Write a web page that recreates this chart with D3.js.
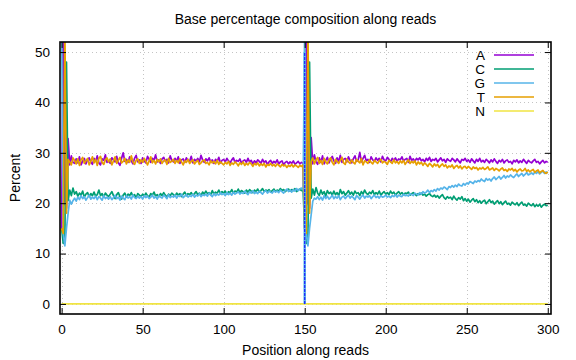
<!DOCTYPE html>
<html><head><meta charset="utf-8">
<script src="https://cdn.jsdelivr.net/npm/d3@7"></script>
<style>
body{margin:0;background:#fff}
svg{display:block}
text{font-family:"Liberation Sans",Arial,Helvetica,sans-serif;fill:#000}
</style></head><body>
<svg id="chart" width="576" height="360"></svg>
<script>
// ---------------- DATA ----------------
const title = "Base percentage composition along reads";
const xLabel = "Position along reads";
const yLabel = "Percent";
const xTicks = [0, 50, 100, 150, 200, 250, 300];
const yTicks = [0, 10, 20, 30, 40, 50];
const seriesNames = ["A", "C", "G", "T", "N"];
const seriesColors = ["#9400d3", "#009e73", "#56b4e9", "#e69f00", "#f0e442"];
const readBoundary = [150];

const baseA = [
14.5,60,20,19,32.8,27.6,29.4,28.1,27.9,28.8,
28.0,29.2,27.6,28.4,28.9,27.8,28.7,29.0,28.2,27.7,
28.9,28.3,29.4,28.0,27.6,28.8,28.5,29.6,28.1,28.4,
27.9,29.0,28.6,28.2,29.3,28.0,27.5,28.9,30.0,28.3,
28.7,28.1,29.2,28.4,27.8,28.9,29.5,28.2,28.6,27.9,
29.0,28.4,28.0,29.3,28.7,28.1,28.9,28.5,29.6,28.2,
28.6,27.9,28.8,29.1,28.3,28.7,28.0,29.4,28.5,28.2,
28.9,28.4,29.2,27.9,28.6,28.8,28.1,29.0,28.5,28.3,
29.3,28.0,28.7,28.4,28.9,28.2,29.5,28.6,28.1,28.8,
28.4,29.0,28.2,28.6,27.9,28.7,28.3,29.1,28.0,28.5,
28.7,28.2,28.9,28.4,28.0,28.6,29.0,28.1,28.5,28.3,
28.8,27.9,28.4,28.6,28.1,28.9,28.2,28.5,27.8,28.4,
28.0,28.6,28.3,27.9,28.7,28.1,28.4,27.7,28.2,28.5,
27.9,28.3,28.0,28.6,27.8,28.2,28.4,27.6,28.1,28.3,
27.8,28.2,27.9,28.4,27.7,28.0,28.3,27.8,28.1,27.9,
15,
60,20,19,33.0,27.8,29.6,28.2,27.7,29.0,
28.1,29.4,27.8,28.5,29.1,28.0,28.8,29.3,28.4,27.9,
29.0,28.3,29.5,28.1,28.7,28.9,28.2,29.2,28.5,28.0,
28.8,29.4,28.3,28.6,30.1,28.2,28.9,29.5,28.4,28.7,
28.1,29.2,28.6,28.3,29.0,28.5,28.9,28.2,29.3,28.6,
28.4,29.1,28.7,28.2,28.9,28.5,29.0,28.3,28.8,28.6,
29.2,28.4,28.7,28.9,28.1,29.3,28.5,28.8,28.3,28.9,
28.6,29.0,28.4,28.7,28.2,28.9,28.5,29.1,28.3,28.7,
28.5,28.9,28.2,28.6,29.0,28.4,28.7,28.1,28.8,28.5,
28.3,28.9,28.6,28.2,28.8,28.4,28.0,28.7,28.5,28.9,
28.3,28.6,28.1,28.8,28.4,28.0,28.7,28.3,28.9,28.2,
28.5,28.1,28.7,28.4,28.0,28.6,28.2,28.8,28.3,27.9,
28.5,28.2,28.7,28.0,28.4,28.6,28.1,28.3,27.8,28.5,
28.2,28.6,28.0,28.4,28.1,28.7,28.3,27.9,28.5,28.2,
28.0,28.4,28.7,28.1,28.3,27.8,28.2,28.5,28.0,28.3,
28.1];

const baseC = [
15,12,13,48,20.5,22.6,21.5,23.0,21.8,22.3,
21.4,22.0,21.6,22.4,21.2,21.8,22.1,21.3,21.9,21.5,
22.2,21.4,21.7,22.6,21.5,21.9,21.2,22.0,21.6,21.3,
21.8,22.3,21.5,20.9,21.7,22.1,21.3,20.8,21.6,22.0,
21.2,21.8,21.5,22.1,21.4,21.7,21.0,21.9,21.6,21.3,
21.8,21.4,22.0,21.5,21.2,21.9,21.6,22.2,21.4,21.7,
21.3,21.9,21.5,22.1,21.6,21.2,21.8,21.5,22.0,21.7,
21.4,22.0,21.6,21.9,21.3,21.8,22.2,21.5,21.9,21.7,
22.1,21.6,21.9,22.3,21.7,22.0,21.5,22.2,21.8,22.4,
21.9,22.1,21.7,22.5,21.8,22.2,22.0,22.6,21.9,22.3,
22.0,22.4,21.8,22.3,22.1,22.7,22.0,22.4,22.2,22.8,
22.1,22.5,22.3,22.0,22.6,22.2,22.7,22.4,22.1,22.6,
22.3,22.8,22.2,22.5,22.9,22.3,22.6,22.4,22.7,22.2,
22.5,22.8,22.3,22.6,22.4,22.9,22.5,22.7,22.3,22.6,
22.8,22.4,22.7,22.5,22.9,22.3,22.6,22.8,22.5,22.7,
15,
12,13,48,21.0,22.8,21.6,23.1,22.0,21.5,
22.6,21.8,22.3,21.4,22.5,21.9,22.2,21.6,22.4,21.7,
22.1,21.5,22.7,21.9,22.3,21.6,22.0,22.5,21.8,22.2,
21.6,22.4,21.9,22.1,21.5,22.3,21.8,22.6,22.0,21.7,
22.2,21.9,22.5,21.7,22.1,21.8,22.4,21.6,22.0,22.3,
21.8,22.1,21.7,22.4,21.9,22.2,21.6,22.0,22.3,21.8,
22.1,21.7,22.0,21.9,22.2,21.6,21.9,22.1,21.8,21.5,
21.9,21.7,22.0,21.6,21.8,21.4,21.7,21.9,21.5,21.3,
21.6,21.2,21.5,21.0,21.4,21.7,21.1,20.8,21.3,21.0,
21.2,20.7,21.4,20.9,20.6,21.1,20.8,21.3,20.5,20.9,
20.4,20.8,20.2,20.6,20.9,20.3,20.7,20.1,20.5,20.0,
20.4,20.6,19.9,20.3,20.7,20.1,20.4,19.8,20.2,20.5,
19.9,20.3,19.7,20.1,20.4,19.8,20.0,19.6,20.2,19.9,
19.7,20.1,19.5,19.9,20.2,19.6,19.8,19.4,20.0,19.7,
19.5,19.9,19.3,19.7,19.4,19.8,19.2,19.6,19.8,19.5,
19.6];

const baseG = [
55.5,14,11.5,15,18,20.6,19.8,20.5,21.0,20.4,
21.2,20.7,21.5,20.9,21.3,20.6,21.1,21.6,20.8,21.2,
20.9,21.4,20.7,21.3,21.0,20.6,21.5,20.9,21.2,20.8,
21.3,20.7,21.1,21.6,20.9,21.2,20.6,21.4,21.0,20.7,
21.5,21.0,21.3,20.8,21.6,21.1,20.9,21.4,21.0,21.3,
20.8,21.5,21.1,21.4,20.9,21.2,21.6,21.0,21.3,20.8,
21.5,21.2,21.0,21.6,21.3,20.9,21.7,21.1,21.4,21.2,
21.6,21.0,21.5,21.3,21.8,21.1,21.4,21.7,21.2,21.5,
21.3,21.8,21.2,21.6,21.4,21.9,21.3,21.7,21.5,21.8,
21.4,22.0,21.6,21.3,21.9,21.5,21.8,21.6,22.1,21.7,
21.9,21.5,22.1,21.7,22.0,21.6,22.2,21.8,22.0,22.3,
21.8,22.1,21.9,22.4,22.0,21.7,22.3,22.0,22.5,21.9,
22.2,21.9,22.4,22.1,21.8,22.3,22.5,22.0,22.4,22.2,
22.0,22.5,22.2,22.4,22.1,22.6,22.3,22.0,22.5,22.8,
22.3,22.6,22.2,22.7,22.4,22.9,22.5,22.8,23.0,22.6,
55,
14,11.5,15,17.7,20.4,21.0,20.8,21.3,20.7,
21.2,20.6,21.5,20.9,21.4,20.8,21.1,21.6,20.9,21.3,
21.0,21.5,20.7,21.2,21.4,20.9,21.3,21.6,21.0,21.4,
21.1,20.7,21.5,21.2,20.8,21.3,21.6,21.0,21.4,21.2,
21.5,20.9,21.3,21.6,21.1,21.4,21.0,21.5,21.2,21.3,
21.6,21.2,21.4,21.1,21.5,21.3,21.7,21.2,21.6,21.4,
21.3,21.8,21.5,21.6,21.4,21.9,21.7,21.5,22.0,21.8,
21.6,22.1,21.8,22.3,22.0,22.2,22.6,22.1,22.5,22.3,
22.7,22.4,22.9,22.6,23.0,22.8,23.2,23.0,22.7,23.3,
23.1,23.5,23.2,23.6,23.3,23.8,23.5,23.4,23.9,23.6,
24.0,23.8,24.3,24.1,23.9,24.4,24.2,24.5,24.3,24.8,
24.5,24.3,24.9,24.6,24.8,24.4,24.9,25.2,24.7,25.0,
25.3,24.8,25.1,25.5,25.0,25.4,25.2,25.6,25.3,25.1,
25.5,25.8,25.3,25.6,25.9,25.4,25.7,26.1,25.6,25.8,
26.0,25.7,26.2,25.9,26.3,25.8,26.1,26.4,25.9,26.2,
26.0];

const baseT = [
15,14,55.5,18,28.7,28.2,27.6,29.0,28.5,27.8,
28.8,27.5,28.6,29.1,27.9,28.4,28.9,27.6,28.3,29.2,
28.0,28.7,27.5,28.9,29.3,28.1,27.7,28.6,29.0,28.2,
28.8,27.6,28.4,29.2,27.9,28.5,29.1,28.0,28.3,28.9,
27.8,28.6,28.1,29.4,28.2,27.7,28.5,28.8,27.9,28.6,
28.1,28.9,28.3,27.6,28.4,29.2,28.0,28.5,27.8,28.7,
28.2,28.8,27.9,28.4,28.6,27.7,28.9,28.1,28.3,28.7,
27.9,28.5,28.0,28.8,28.2,27.6,28.4,28.1,28.7,27.9,
28.3,28.6,27.8,28.2,28.5,27.7,28.0,28.4,28.6,27.9,
28.1,27.6,28.4,28.0,28.3,27.8,28.5,27.7,28.2,27.9,
27.6,28.1,27.8,28.3,27.5,28.0,27.7,28.2,27.9,27.4,
28.0,27.7,28.2,27.5,27.9,27.6,28.1,27.8,27.3,27.9,
27.6,28.0,27.4,27.8,27.5,27.9,27.2,27.7,27.5,27.9,
27.4,27.7,27.3,27.8,27.5,27.2,27.7,27.4,27.6,27.1,
27.5,27.3,27.7,27.2,27.6,27.4,27.1,27.5,27.3,27.6,
15,
14,55.5,18,28.3,29.0,27.8,28.6,29.1,27.9,
28.5,27.7,28.9,28.2,27.8,28.6,29.0,28.1,27.6,28.7,
28.3,27.9,28.5,29.1,28.0,27.7,28.8,28.2,27.9,28.6,
28.1,27.8,28.7,28.3,28.0,28.9,27.6,28.4,28.2,27.9,
28.6,28.1,27.8,28.5,28.2,27.9,28.4,28.7,28.0,28.3,
28.1,27.7,28.5,28.2,27.9,28.6,28.0,28.3,27.8,28.4,
28.0,28.5,27.7,28.2,28.6,27.9,28.3,28.0,28.4,27.6,
28.2,27.8,28.1,27.5,28.0,27.7,27.3,27.9,27.6,27.2,
27.8,27.4,27.7,27.1,27.5,27.8,27.3,27.6,27.0,27.4,
27.2,27.6,26.9,27.3,27.5,27.0,27.4,26.8,27.2,27.3,
26.9,27.3,27.0,26.7,27.2,26.9,27.1,26.6,27.0,26.8,
27.1,26.7,26.9,27.2,26.6,26.8,27.0,26.5,26.9,26.7,
26.4,26.8,27.0,26.5,26.7,26.3,26.8,26.6,26.9,26.4,
26.7,26.2,26.6,26.8,26.4,26.5,26.9,26.3,26.6,26.2,
26.5,26.7,26.1,26.4,26.6,26.0,26.3,26.5,26.1,25.9,
26.2];

const baseN = [
0,0,0,0,0,0,0,0,0,0,0,0,0,0,0,0,0,0,0,0,0,0,0,0,0,0,0,0,0,0,
0,0,0,0,0,0,0,0,0,0,0,0,0,0,0,0,0,0,0,0,0,0,0,0,0,0,0,0,0,0,
0,0,0,0,0,0,0,0,0,0,0,0,0,0,0,0,0,0,0,0,0,0,0,0,0,0,0,0,0,0,
0,0,0,0,0,0,0,0,0,0,0,0,0,0,0,0,0,0,0,0,0,0,0,0,0,0,0,0,0,0,
0,0,0,0,0,0,0,0,0,0,0,0,0,0,0,0,0,0,0,0,0,0,0,0,0,0,0,0,0,0,
0,0,0,0,0,0,0,0,0,0,0,0,0,0,0,0,0,0,0,0,0,0,0,0,0,0,0,0,0,0,
0,0,0,0,0,0,0,0,0,0,0,0,0,0,0,0,0,0,0,0,0,0,0,0,0,0,0,0,0,0,
0,0,0,0,0,0,0,0,0,0,0,0,0,0,0,0,0,0,0,0,0,0,0,0,0,0,0,0,0,0,
0,0,0,0,0,0,0,0,0,0,0,0,0,0,0,0,0,0,0,0,0,0,0,0,0,0,0,0,0,0,
0,0,0,0,0,0,0,0,0,0,0,0,0,0,0,0,0,0,0,0,0,0,0,0,0,0,0,0,0,0,
0];

const seriesValues = [baseA, baseC, baseG, baseT, baseN];

// ---------------- LAYOUT ----------------
const W = 576, H = 360;
const plot = {left: 60, right: 551, top: 42, bottom: 314};
const svg = d3.select("#chart");

const x = d3.scaleLinear().domain([-1, 302]).range([plot.left, plot.right]);
const y = d3.scaleLinear().domain([-2, 52]).range([plot.bottom, plot.top]);

svg.append("rect").attr("width", W).attr("height", H).attr("fill", "#fff");

svg.append("defs").append("clipPath").attr("id", "clip")
  .append("rect").attr("x", plot.left).attr("y", plot.top)
  .attr("width", plot.right - plot.left).attr("height", plot.bottom - plot.top);

// grid
const grid = svg.append("g").attr("stroke", "#c4c4c4").attr("stroke-width", 1)
  .attr("stroke-dasharray", "1,3").attr("shape-rendering", "crispEdges");
grid.selectAll(".gx").data(xTicks).join("line")
  .attr("x1", d => Math.round(x(d)) + 0.5).attr("x2", d => Math.round(x(d)) + 0.5)
  .attr("y1", plot.top).attr("y2", plot.bottom);
grid.selectAll(".gy").data(yTicks).join("line")
  .attr("y1", d => Math.round(y(d)) + 0.5).attr("y2", d => Math.round(y(d)) + 0.5)
  .attr("x1", plot.left).attr("x2", plot.right);

// series
const lineGen = d3.line().x((d, i) => x(i)).y(d => y(d));
const lines = svg.append("g").attr("clip-path", "url(#clip)");
seriesValues.forEach((vals, k) => {
  lines.append("path").datum(vals)
    .attr("fill", "none").attr("stroke", seriesColors[k])
    .attr("stroke-width", 1.7).attr("stroke-linejoin", "round")
    .attr("d", lineGen);
});

// read boundary marker
readBoundary.forEach(b => {
  lines.append("line").attr("x1", x(b)).attr("x2", x(b))
    .attr("y1", y(0)).attr("y2", y(50))
    .attr("stroke", "#56b4e9").attr("stroke-width", 2.5);
  lines.append("line").attr("x1", x(b)).attr("x2", x(b))
    .attr("y1", y(0)).attr("y2", y(50))
    .attr("stroke", "#1f1fff").attr("stroke-width", 1.2)
    .attr("stroke-dasharray", "3,1");
});

// axes with inward ticks (gnuplot style, mirrored)
const tickLen = 6;
const fontSize = 13.5;
const labelSize = 14;
const axB = d3.axisBottom(x).tickValues(xTicks).tickSize(-tickLen).tickPadding(10).tickFormat(d3.format("d"));
const axT = d3.axisTop(x).tickValues(xTicks).tickSize(-tickLen).tickFormat("");
const axL = d3.axisLeft(y).tickValues(yTicks).tickSize(-tickLen).tickPadding(10).tickFormat(d3.format("d"));
const axR = d3.axisRight(y).tickValues(yTicks).tickSize(-tickLen).tickFormat("");

function styleAxis(g) {
  g.select(".domain").remove();
  g.selectAll(".tick line").attr("stroke", "#000").attr("stroke-width", 1);
  g.selectAll(".tick text").attr("font-size", fontSize)
    .attr("font-family", "'Liberation Sans', Arial, sans-serif").attr("fill", "#000");
}
svg.append("g").attr("transform", `translate(0,${plot.bottom})`).call(axB).call(styleAxis);
svg.append("g").attr("transform", `translate(0,${plot.top})`).call(axT).call(styleAxis);
svg.append("g").attr("transform", `translate(${plot.left},0)`).call(axL).call(styleAxis);
svg.append("g").attr("transform", `translate(${plot.right},0)`).call(axR).call(styleAxis);

// frame
svg.append("rect").attr("x", plot.left).attr("y", plot.top)
  .attr("width", plot.right - plot.left).attr("height", plot.bottom - plot.top)
  .attr("fill", "none").attr("stroke", "#000").attr("stroke-width", 1.6);

// title and labels
svg.append("text").attr("x", (plot.left + plot.right) / 2).attr("y", 24)
  .attr("text-anchor", "middle").attr("font-size", labelSize).text(title);
svg.append("text").attr("x", (plot.left + plot.right) / 2).attr("y", 355)
  .attr("text-anchor", "middle").attr("font-size", labelSize).text(xLabel);
svg.append("text").attr("transform", `translate(20,${(plot.top + plot.bottom) / 2}) rotate(-90)`)
  .attr("text-anchor", "middle").attr("font-size", labelSize).text(yLabel);

// legend
const legend = svg.append("g");
seriesNames.forEach((name, k) => {
  const ly = 55 + k * 14;
  legend.append("text").attr("x", 485).attr("y", ly).attr("dy", "0.35em")
    .attr("text-anchor", "end").attr("font-size", fontSize).text(name);
  legend.append("line").attr("x1", 494).attr("x2", 534).attr("y1", ly).attr("y2", ly)
    .attr("stroke", seriesColors[k]).attr("stroke-width", 1.7);
});
</script>
</body></html>
